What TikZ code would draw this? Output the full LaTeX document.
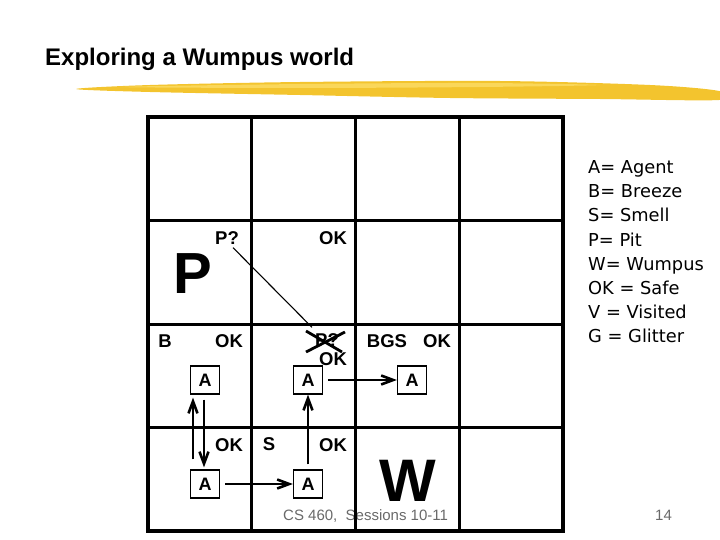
\documentclass[tikz,border=0pt]{standalone}
\usepackage{fontspec}
\setmainfont{Liberation Sans}
\newfontfamily\legendfont{DejaVu Sans}
\usetikzlibrary{arrows.meta}
\definecolor{brush}{RGB}{243,196,46}
\definecolor{brushlight}{RGB}{250,215,90}
\definecolor{footgray}{RGB}{105,105,105}

\begin{document}
\begin{tikzpicture}[
  x=1pt,y=-1pt,
  >={Straight Barb[length=12pt,width=9pt]},
  lbl/.style={inner sep=0pt,font=\bfseries\fontsize{18.5}{20}\selectfont},
  big/.style={inner sep=0pt,font=\bfseries\fontsize{60}{60}\selectfont},
  agent/.style={draw,line width=1.3pt,minimum width=29pt,minimum height=28pt,
    inner sep=0pt,font=\bfseries\fontsize{18}{18}\selectfont},
  move/.style={->,line width=2.6pt},
  legend/.style={anchor=base west,inner sep=0pt,
    font=\legendfont\fontsize{17.8}{20}\selectfont},
  foot/.style={anchor=base west,inner sep=0pt,text=footgray,
    font=\fontsize{15}{15}\selectfont}
]
  \useasboundingbox (0,0) rectangle (720,540);

  % Title and brush stroke
  \node[anchor=base west,inner sep=0pt,font=\bfseries\fontsize{24}{24}\selectfont]
    (title) at (45,66) {Exploring a Wumpus world};
  \fill[brush] plot[smooth cycle] coordinates
    {(76,89) (150,85) (300,82) (500,81) (650,85) (719,91)
     (719,100) (600,99) (450,98) (300,95) (150,92)};
  \fill[brushlight] plot[smooth cycle] coordinates
    {(120,87) (300,84) (480,83) (600,85) (480,87) (300,88)};

  % Footer (drawn first, the grid lies over it)
  \node[foot] (course) at (283,520) {CS 460,\ \ Sessions 10-11};
  \node[foot] (page) at (655,520) {14};

  % 4x4 cave
  \foreach \i in {1,2,3} {
    \draw[line width=3pt] ({148+103.75*\i},117) -- ({148+103.75*\i},531);
    \draw[line width=3pt] (148,{117+103.5*\i}) -- (563,{117+103.5*\i});
  }
  \draw[line width=4.5pt] (148,117) rectangle (563,531);

  % Percepts and conclusions
  \node[lbl] (pq) at (227,238) {P?};
  \node[lbl] (ok23) at (333,238) {OK};
  \node[big,font=\bfseries\fontsize{58}{58}\selectfont] (pit) at (193,274) {P};
  \node[lbl] (b12) at (165,341) {B};
  \node[lbl] (ok12) at (229,341) {OK};
  \node[lbl] (pqx) at (327,340) {P?};
  \node[lbl] (ok22) at (333,359) {OK};
  \node[lbl] (bgs) at (387,341) {BGS};
  \node[lbl] (ok32) at (437,341) {OK};
  \node[lbl] (ok11) at (229,445) {OK};
  \node[lbl] (s21) at (269,444) {S};
  \node[lbl] (ok21) at (333,445) {OK};
  \node[big,anchor=base] (wump) at (408,501) {W};

  % P? ruled out in [2,2]
  \draw[line width=2.8pt] ([shift={(-21,-9)}]pqx.center) -- ([shift={(15,12)}]pqx.center);
  \draw[line width=2.8pt] ([shift={(-21,12)}]pqx.center) -- ([shift={(18,-8)}]pqx.center);
  \draw[line width=1.1pt] ([shift={(6,3)}]pq.south) -- ([shift={(-3,-6)}]pqx.north west);

  % Agent path
  \node[agent] (a11) at (205,484) {A};
  \node[agent] (a21) at (308,484) {A};
  \node[agent] (a12) at (205,380) {A};
  \node[agent] (a22) at (308,380) {A};
  \node[agent] (a32) at (412,380) {A};

  \draw[move,shorten <=10pt,shorten >=3pt]
    ([xshift=-12]a11.north) -- ([xshift=-12]a12.south);
  \draw[move,shorten <=5pt,shorten >=2pt]
    ([xshift=-1]a12.south) -- ([xshift=-1]a11.north);
  \draw[move,shorten <=5pt] (a11) -- (a21);
  \draw[move,shorten <=5pt] (a21) -- (a22);
  \draw[move,shorten <=5pt] (a22) -- (a32);

  % Legend
  \foreach \t [count=\k] in {A= Agent,B= Breeze,S= Smell,P= Pit,
      W= Wumpus,OK = Safe,V = Visited,G = Glitter}
    \node[legend] (leg\k) at (588,{150+24*\k}) {\t};
\end{tikzpicture}
\end{document}
